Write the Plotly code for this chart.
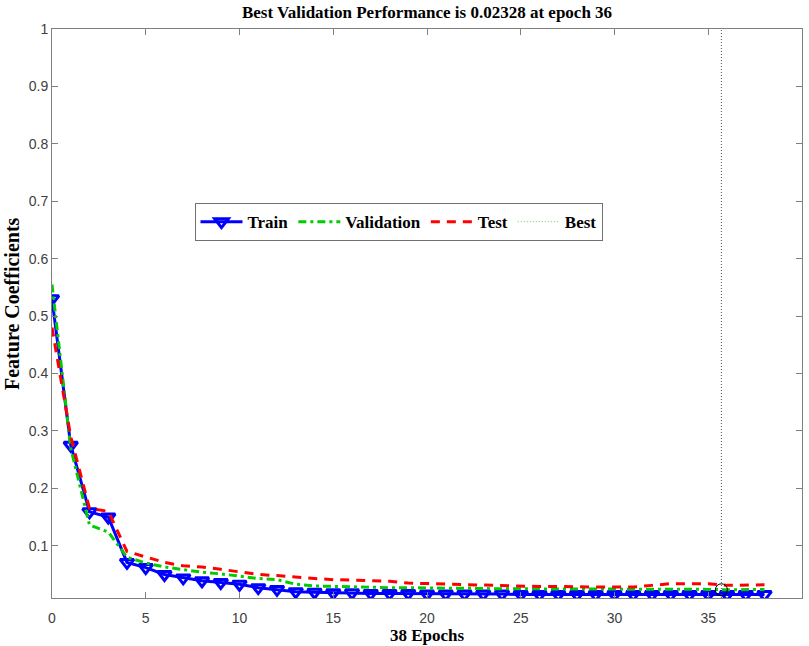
import plotly.graph_objects as go

epochs = list(range(0, 39))
train = [0.530, 0.275, 0.159, 0.150, 0.071, 0.062, 0.050, 0.044, 0.039, 0.036,
         0.033, 0.027, 0.024, 0.020, 0.019, 0.018, 0.018, 0.017, 0.017, 0.017,
         0.016, 0.016, 0.016, 0.016, 0.016, 0.015, 0.015, 0.015, 0.015, 0.015,
         0.015, 0.015, 0.015, 0.015, 0.015, 0.015, 0.015, 0.015, 0.015]
validation = [0.555, 0.270, 0.136, 0.124, 0.080, 0.070, 0.063, 0.058, 0.054, 0.051,
              0.047, 0.043, 0.041, 0.033, 0.030, 0.029, 0.028, 0.028, 0.027, 0.027,
              0.026, 0.026, 0.026, 0.025, 0.025, 0.025, 0.025, 0.024, 0.024, 0.024,
              0.024, 0.024, 0.024, 0.024, 0.024, 0.024, 0.0233, 0.024, 0.024]
test = [0.480, 0.290, 0.165, 0.160, 0.090, 0.080, 0.071, 0.065, 0.063, 0.059,
        0.054, 0.050, 0.048, 0.045, 0.043, 0.041, 0.040, 0.039, 0.038, 0.035,
        0.034, 0.034, 0.033, 0.032, 0.031, 0.030, 0.029, 0.029, 0.028, 0.028,
        0.028, 0.028, 0.031, 0.034, 0.034, 0.034, 0.031, 0.031, 0.032]
best_epoch_pos = 35.7
best_value = 0.02328
y_range = [0.009, 1.0]
x_ticks = [0, 5, 10, 15, 20, 25, 30, 35, 40]
y_ticks = [0.1, 0.2, 0.3, 0.4, 0.5, 0.6, 0.7, 0.8, 0.9, 1.0]
y_tick_text = ["0.1", "0.2", "0.3", "0.4", "0.5", "0.6", "0.7", "0.8", "0.9", "1"]

serif = "Liberation Serif, Times New Roman, serif"
sans = "Liberation Sans, Arial, sans-serif"

fig = go.Figure()
fig.add_trace(go.Scatter(
    x=epochs, y=train, name="Train", mode="lines+markers",
    line=dict(color="#0000FF", width=3),
    marker=dict(symbol="triangle-down-open", size=12, color="#0000FF",
                line=dict(width=3, color="#0000FF")),
    legendrank=1))
fig.add_trace(go.Scatter(
    x=epochs, y=validation, name="Validation", mode="lines",
    line=dict(color="#00CC00", width=3, dash="8px,4px,3px,4px"),
    legendrank=2))
fig.add_trace(go.Scatter(
    x=epochs, y=test, name="Test", mode="lines",
    line=dict(color="#FF0000", width=3, dash="9px,7px"),
    legendrank=3))
fig.add_trace(go.Scatter(
    x=[best_epoch_pos, best_epoch_pos], y=y_range, mode="lines",
    line=dict(color="#555555", width=1, dash="1px,2px"),
    showlegend=False, hoverinfo="skip"))
fig.add_trace(go.Scatter(
    x=[best_epoch_pos], y=[best_value], mode="markers",
    marker=dict(symbol="circle-open", size=12, color="#000000",
                line=dict(width=1, color="#000000")),
    showlegend=False))
fig.add_trace(go.Scatter(
    x=[None], y=[None], name="Best", mode="lines",
    line=dict(color="#66CC66", width=1, dash="1px,2px"),
    legendrank=4))

axis_common = dict(
    showline=True, linecolor="#808080", linewidth=1, mirror="ticks",
    ticks="inside", ticklen=6, tickcolor="#808080",
    showgrid=False, zeroline=False,
    tickfont=dict(family=sans, size=14, color="#404040"),
)

fig.update_layout(
    width=809, height=646,
    margin=dict(l=52, r=7, t=29, b=48),
    paper_bgcolor="white", plot_bgcolor="white",
    title=dict(text="Best Validation Performance is 0.02328 at epoch 36",
               font=dict(family=serif, size=17, color="#000000", weight="bold"),
               x=0.5, xref="paper", xanchor="center",
               y=1 - 12 / 646, yref="container", yanchor="middle"),
    xaxis=dict(range=[0, 40], tickvals=x_ticks, ticklabelstandoff=7, **axis_common),
    yaxis=dict(range=y_range, tickvals=y_ticks, ticktext=y_tick_text, **axis_common),
    legend=dict(orientation="h", x=0.19, y=0.694, xanchor="left", yanchor="top",
                bgcolor="white", bordercolor="#707070", borderwidth=1,
                itemwidth=42,
                font=dict(family=serif, size=17, color="#000000", weight="bold")),
    showlegend=True,
    annotations=[
        dict(text="38 Epochs", xref="paper", yref="paper", x=0.5, y=-0.066,
             yanchor="middle", xanchor="center", showarrow=False,
             font=dict(family=serif, size=17, color="#000000", weight="bold")),
        dict(text="Feature Coefficients", xref="paper", yref="paper", x=-0.05, y=0.5,
             textangle=-90, xanchor="center", yanchor="middle", showarrow=False,
             xshift=-3, yshift=10,
             font=dict(family=serif, size=20, color="#000000", weight="bold")),
    ],
)

fig.write_html("out.html")
